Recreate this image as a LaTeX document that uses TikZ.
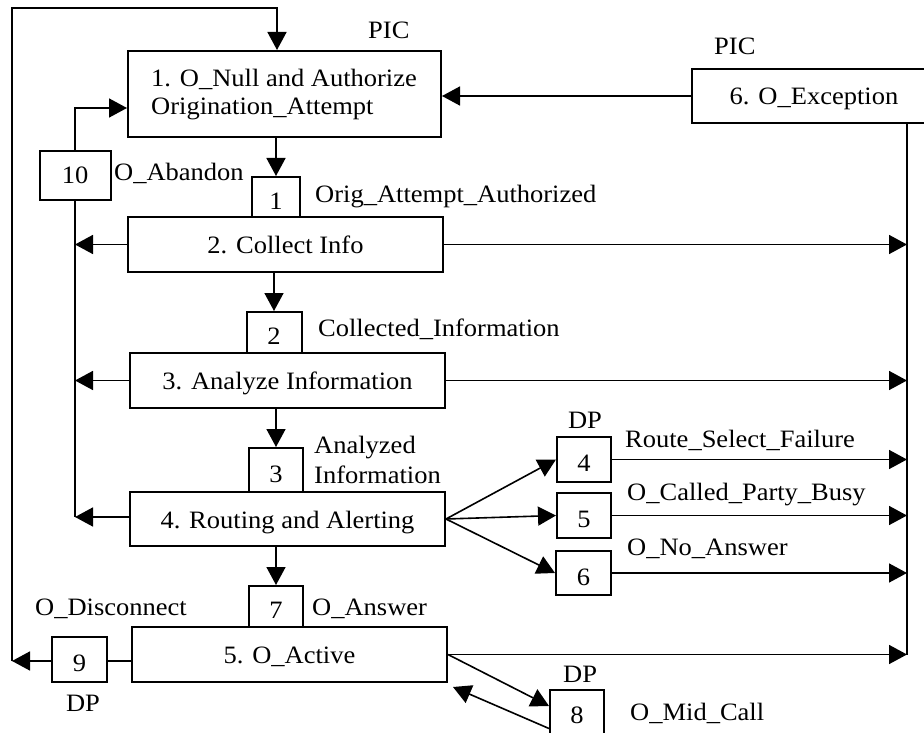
\documentclass[tikz,border=0pt]{standalone}
\usepackage{fontspec}
\setmainfont{Liberation Serif}[FakeStretch=1.06]
\usetikzlibrary{arrows.meta}
\begin{document}
\begin{tikzpicture}[x=1pt,y=-1pt,
  every node/.style={font=\fontsize{25}{28}\selectfont, inner sep=0pt},
  stateblock/.style={draw, line width=2pt, text height=18pt, text depth=0pt},
  dpbox/.style={draw, line width=2pt, text height=24pt, text depth=0pt},
  lbl/.style={anchor=base west},
  wire/.style={line width=1.6pt},
  arr/.style={wire, -{Triangle[length=18pt,width=19pt]}}]
\clip (0,0) rectangle (924,733);

% points in call states (PIC)
\node[draw, line width=2pt, minimum width=313pt, minimum height=86pt] (b1) at (284.5,94) {};
\node[lbl] (b1a) at (151,87) {1. O\_Null and Authorize};
\node[lbl] (b1b) at (151,115) {Origination\_Attempt};
\node[stateblock, minimum width=315pt, minimum height=55pt] (b2) at (285.5,244.5) {2. Collect Info};
\node[stateblock, minimum width=315pt, minimum height=55pt] (b3) at (287.5,380.5) {3. Analyze Information};
\node[stateblock, minimum width=315pt, minimum height=54pt] (b4) at (287.5,519) {4. Routing and Alerting};
\node[stateblock, minimum width=315pt, minimum height=55pt] (b5) at (289.5,654.5) {5. O\_Active};
\node[stateblock, minimum width=244pt, minimum height=54pt] (b6) at (814,96) {6. O\_Exception};

% detection points (DP)
\node[dpbox, minimum width=48pt, minimum height=40pt] (dp1) at (276,197) {1};
\node[dpbox, minimum width=55pt, minimum height=41pt] (dp2) at (274,332.5) {2};
\node[dpbox, minimum width=54pt, minimum height=44pt] (dp3) at (276,470) {3};
\node[dpbox, minimum width=54pt, minimum height=45pt] (dp4) at (584,459.5) {4};
\node[dpbox, minimum width=54pt, minimum height=45pt] (dp5) at (584,515.5) {5};
\node[dpbox, minimum width=55pt, minimum height=44pt] (dp6) at (583.5,573) {6};
\node[dpbox, minimum width=54pt, minimum height=41pt] (dp7) at (276,606.5) {7};
\node[dpbox, text height=12pt, minimum width=54pt, minimum height=55pt] (dp8) at (577,717.5) {8};
\node[dpbox, minimum width=55pt, minimum height=45pt] (dp9) at (79.5,659) {9};
\node[draw, line width=2pt, minimum width=71pt, minimum height=49pt] (dp10) at (75,175.5) {10};

% labels
\node[lbl] (pic1) at (368,39) {PIC};
\node[lbl] (pic6) at (714,55) {PIC};
\node[lbl] (t10) at (114,180) {O\_Abandon};
\node[lbl] (t1) at (315,203) {Orig\_Attempt\_Authorized};
\node[lbl] (t2) at (318,336) {Collected\_Information};
\node[lbl] (t3a) at (314,453) {Analyzed};
\node[lbl] (t3b) at (314,483) {Information};
\node[anchor=base] (dp4t) at (585,428) {DP};
\node[lbl] (t4) at (625,447) {Route\_Select\_Failure};
\node[lbl] (t5) at (627,500) {O\_Called\_Party\_Busy};
\node[lbl] (t6) at (627,555) {O\_No\_Answer};
\node[lbl] (t7) at (312,615) {O\_Answer};
\node[lbl] (t9) at (35,615) {O\_Disconnect};
\node[anchor=base] (dp9t) at (83,711) {DP};
\node[lbl] (dp8t) at (563,682) {DP};
\node[lbl] (t8) at (630,720) {O\_Mid\_Call};

% routing points
\coordinate (lo) at (12,661);
\coordinate (tl) at (12,8);
\coordinate (tr) at (277,8);
\coordinate (rb) at (907,655);
\coordinate (li) at (75,517);

% main flow
\draw[arr] (b1.south -| dp1.north) -- (dp1.north);
\draw[arr] (b2.south -| dp2.north) -- (dp2.north);
\draw[arr] (b3.south -| dp3.north) -- (dp3.north);
\draw[arr] (b4.south -| dp7.north) -- (dp7.north);

% abandon branch on the left
\draw[wire] (dp10.south) -- (li);
\draw[arr] (dp10.north) |- ([yshift=-14pt]b1.west);
\draw[arr] (b2.west) -- (b2.west -| li);
\draw[arr] (b3.west) -- (b3.west -| li);
\draw[arr] (b4.west |- li) -- (li);

% disconnect loop back to PIC 1
\draw[wire] (b5.west |- lo) -- (dp9.east |- lo);
\draw[arr] (dp9.west |- lo) -- (lo);
\draw[arr] (lo) -- (tl) -- (tr) -- (b1.north -| tr);

% exception branch on the right
\draw[arr] (b6.west) -- (b1.east |- b6.west);
\draw[wire] (b6.south -| rb) -- (rb);
\draw[arr] (b2.east) -- (b2.east -| rb);
\draw[arr] (b3.east) -- (b3.east -| rb);
\draw[arr] (dp4.east) -- (dp4.east -| rb);
\draw[arr] (dp5.east) -- (dp5.east -| rb);
\draw[arr] (dp6.east) -- (dp6.east -| rb);
\draw[arr] (b5.east) -- (b5.east -| rb);

% routing failures
\draw[arr] (b4.east) -- (dp4.west);
\draw[arr] (b4.east) -- (dp5.west);
\draw[arr] (b4.east) -- (dp6.west);

% mid-call detection point
\draw[arr] (b5.east) -- ([yshift=-17pt]dp8.north west);
\draw[arr] ([yshift=-11pt]dp8.west) -- ([shift={(5pt,-4pt)}]b5.south east);
\end{tikzpicture}
\end{document}
